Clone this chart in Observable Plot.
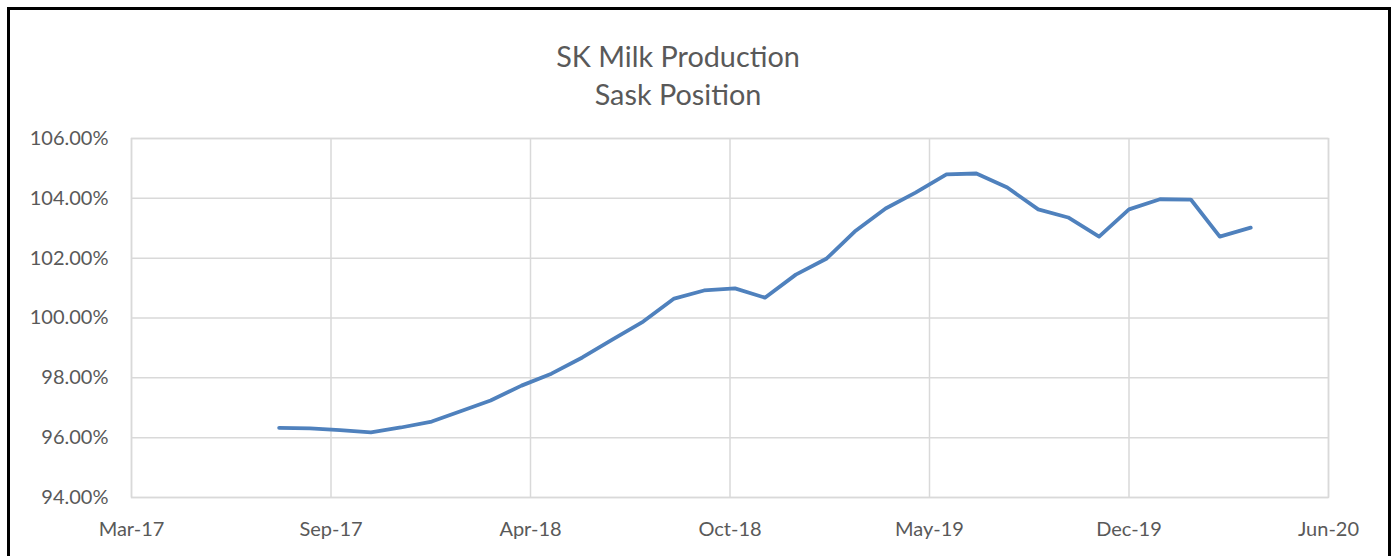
<!DOCTYPE html>
<html>
<head>
<meta charset="utf-8">
<script src="https://cdn.jsdelivr.net/npm/d3@7"></script>
<script src="https://cdn.jsdelivr.net/npm/@observablehq/plot@0.6"></script>
<style>
  html, body { margin: 0; padding: 0; background: #fff; }
  #wrap { position: relative; width: 1392px; height: 556px; overflow: hidden; background: #fff; }
  #chart { position: absolute; left: 0; top: 0; }
  #title { position: absolute; left: 0; top: 36.9px; width: 1356px; text-align: center;
           font-family: Lato, sans-serif; font-size: 28.8px; line-height: 38px; color: #595959; }
  #border { position: absolute; left: 7px; top: 7px; width: 1378px; height: 600px; border: 3px solid #000; }
</style>
</head>
<body>
<div id="wrap">
  <div id="chart"></div>
  <div id="title">SK Milk Production<br>Sask Position</div>
  <div id="border"></div>
</div>
<script>
// Monthly data points (first of month)
const months = [
  "2017-08-01","2017-09-01","2017-10-01","2017-11-01","2017-12-01",
  "2018-01-01","2018-02-01","2018-03-01","2018-04-01","2018-05-01","2018-06-01",
  "2018-07-01","2018-08-01","2018-09-01","2018-10-01","2018-11-01","2018-12-01",
  "2019-01-01","2019-02-01","2019-03-01","2019-04-01","2019-05-01","2019-06-01",
  "2019-07-01","2019-08-01","2019-09-01","2019-10-01","2019-11-01","2019-12-01",
  "2020-01-01","2020-02-01","2020-03-01","2020-04-01"
];
const values = [
  0.9633, 0.9631, 0.9625, 0.9618, 0.9634,
  0.9654, 0.9691, 0.9724, 0.9774, 0.9814, 0.9868,
  0.9928, 0.9988, 1.0065, 1.0092, 1.0099, 1.0068,
  1.0145, 1.0199, 1.0289, 1.0366, 1.0419, 1.0480,
  1.0483, 1.0436, 1.0363, 1.0336, 1.0272, 1.0363,
  1.0397, 1.0396, 1.0272, 1.0302
];
// X axis ticks (Excel serial 42800..44000 step 200)
const xTicks = ["2017-03-06","2017-09-22","2018-04-10","2018-10-27","2019-05-15","2019-12-01","2020-06-18"];
const xDomain = ["2017-03-06", "2020-06-18"];
const yTicks = [0.94, 0.96, 0.98, 1.00, 1.02, 1.04, 1.06];
const yDomain = [0.94, 1.06];

const data = months.map((m, i) => ({date: new Date(m), value: values[i]}));
const xt = xTicks.map(d => new Date(d));

const chart = Plot.plot({
  width: 1392,
  height: 556,
  marginLeft: 131,
  marginRight: 64,
  marginTop: 138,
  marginBottom: 59,
  style: {fontFamily: "Lato, sans-serif", fontSize: "20px", color: "#595959", background: "transparent"},
  x: {type: "utc", domain: xDomain.map(d => new Date(d))},
  y: {domain: yDomain},
  marks: [
    Plot.gridX(xt, {stroke: "#d9d9d9", strokeOpacity: 1, strokeWidth: 1.5}),
    Plot.gridY(yTicks, {stroke: "#d9d9d9", strokeOpacity: 1, strokeWidth: 1.5}),
    Plot.frame({stroke: "#d9d9d9", strokeWidth: 1.5}),
    Plot.axisX(xt, {tickSize: 0, tickPadding: 24, tickFormat: d3.utcFormat("%b-%y"), label: null}),
    Plot.axisY(yTicks, {tickSize: 0, tickPadding: 23, tickFormat: d3.format(".2%"), label: null}),
    Plot.line(data, {x: "date", y: "value", stroke: "#4F81BD", strokeWidth: 3.8, strokeLinejoin: "round", strokeLinecap: "round"})
  ]
});
document.getElementById("chart").appendChild(chart);
</script>
</body>
</html>
